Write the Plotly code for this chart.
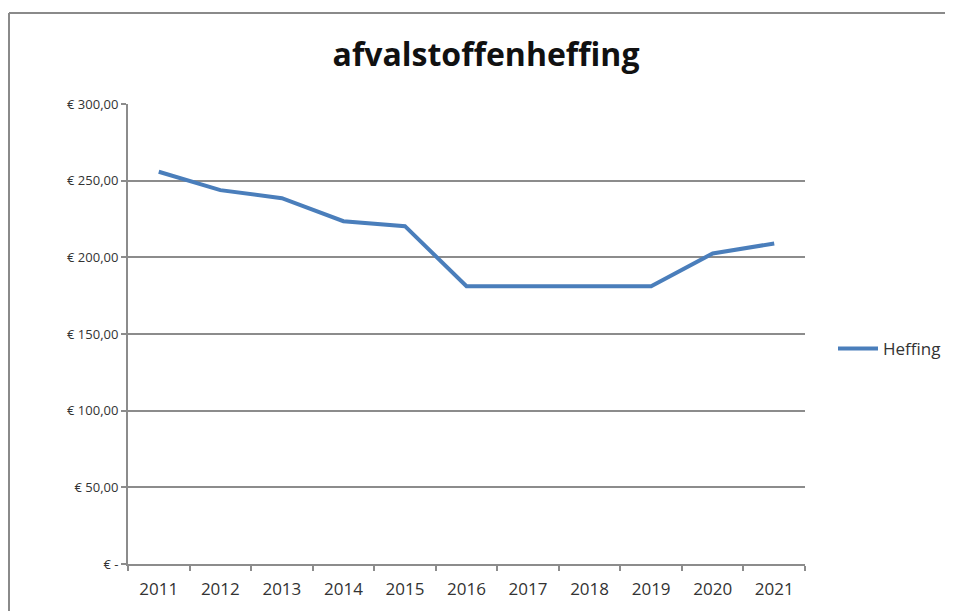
import plotly.graph_objects as go

# ── data ──────────────────────────────────────────────────────────────────────
YEARS = ["2011", "2012", "2013", "2014", "2015", "2016",
         "2017", "2018", "2019", "2020", "2021"]
HEFFING = [255.84, 243.84, 238.56, 223.56, 220.32, 181.20,
           181.20, 181.20, 181.20, 202.56, 209.04]

Y_TICKS = [0, 50, 100, 150, 200, 250, 300]
Y_LABELS = ["€ -", "€ 50,00", "€ 100,00", "€ 150,00",
            "€ 200,00", "€ 250,00", "€ 300,00"]

# ── layout geometry (page pixels; body has an 8px margin) ─────────────────────
OFF = 8
W, H = 953 - OFF, 611 - OFF
L, T = 128 - OFF, 104 - OFF
R = W - (805 - OFF)
B = H - (564 - OFF)
PW, PH = W - L - R, H - T - B

def px_x(x):  # page pixel -> paper x
    return (x - OFF - L) / PW

def px_y(y):  # page pixel -> paper y
    return (H - B - (y - OFF)) / PH

FONT = "Open Sans"
GRID = "#8c8c8c"
FRAME = dict(color="#8a8a8a", width=2)

fig = go.Figure()
fig.add_trace(go.Scatter(
    x=YEARS, y=HEFFING, mode="lines", name="Heffing",
    line=dict(color="#4a7ebb", width=4),
))

fig.update_layout(
    width=W, height=H,
    margin=dict(l=L, r=R, t=T, b=B, autoexpand=False),
    paper_bgcolor="white", plot_bgcolor="white",
    title=dict(text="<b>afvalstoffenheffing</b>",
               font=dict(family=FONT, size=32, color="#111"),
               x=(486 - OFF) / W, xanchor="center",
               y=1 - (55 - OFF) / H, yanchor="middle"),
    xaxis=dict(
        type="category", range=[-0.5, len(YEARS) - 0.5],
        tickson="boundaries", ticks="outside", ticklen=5,
        tickcolor=GRID, tickwidth=1.5,
        showline=True, linecolor=GRID, linewidth=2,
        showgrid=False, ticklabelstandoff=9,
        tickfont=dict(family=FONT, size=17, color="#333"),
    ),
    yaxis=dict(
        range=[0, 300], tickvals=Y_TICKS, ticktext=Y_LABELS,
        ticks="outside", ticklen=5, tickcolor=GRID, tickwidth=1.5,
        showline=True, linecolor=GRID, linewidth=2,
        showgrid=True, gridcolor=GRID, gridwidth=2,
        zeroline=False,
        tickfont=dict(family=FONT, size=13, color="#333"),
    ),
    showlegend=True,
    legend=dict(x=px_x(833), y=px_y(349), xanchor="left", yanchor="middle",
                itemwidth=40,
                font=dict(family=FONT, size=17, color="#333"),
                bgcolor="rgba(0,0,0,0)"),
    # chart frame: only the top and left edges are inside the crop
    shapes=[
        dict(type="line", xref="paper", yref="paper",
             x0=px_x(OFF + 1), x1=px_x(1000), y0=px_y(13), y1=px_y(13),
             line=FRAME, layer="below"),
        dict(type="line", xref="paper", yref="paper",
             x0=px_x(OFF + 1), x1=px_x(OFF + 1), y0=px_y(13), y1=px_y(700),
             line=FRAME, layer="below"),
    ],
)

fig.write_html("out.html")
